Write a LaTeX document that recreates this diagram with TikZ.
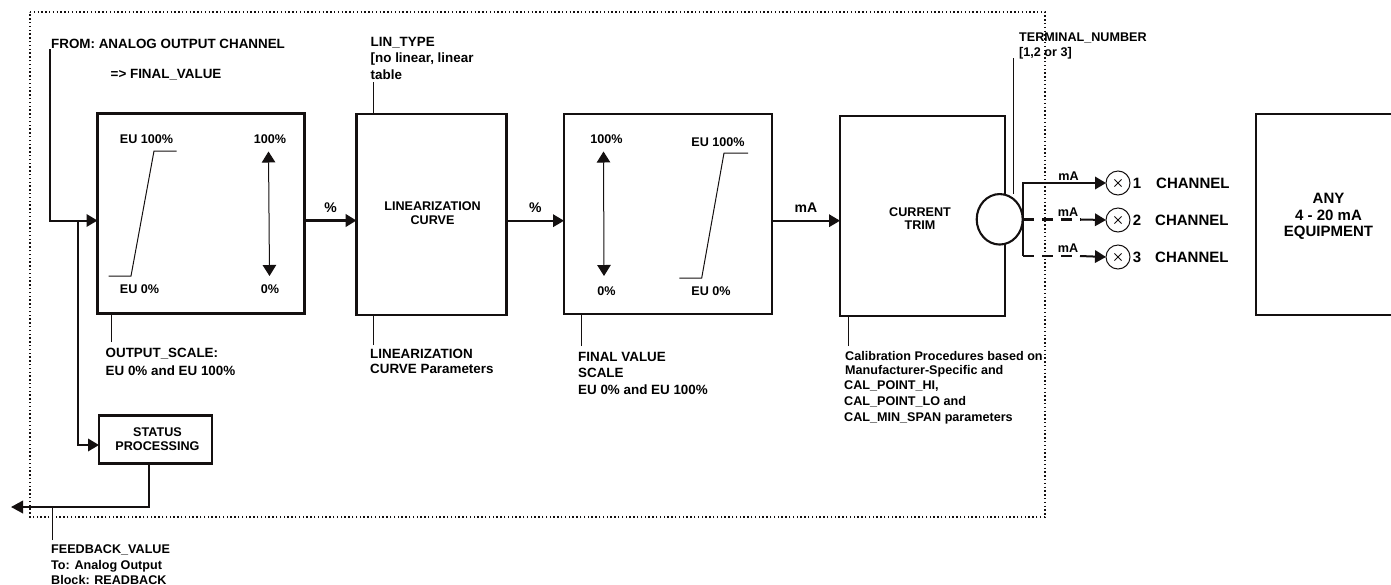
\documentclass[tikz,border=0pt]{standalone}
\usepackage{fontspec}
\setmainfont{Liberation Sans}
\usetikzlibrary{arrows.meta,positioning,calc,shapes.geometric}
\definecolor{ink}{RGB}{20,16,16}
\tikzset{
  x=1pt,y=-1pt,
  every node/.style={font=\fontsize{12.6}{13.8}\selectfont\bfseries,text=black,inner sep=0pt,align=center},
  lbl/.style={anchor=west,align=left,font=\fontsize{13.4}{15}\selectfont\bfseries},
  small/.style={anchor=west,align=left,font=\fontsize{12.6}{14}\selectfont\bfseries},
  big/.style={font=\fontsize{15}{16.7}\selectfont\bfseries},
  mid/.style={font=\fontsize{14}{16}\selectfont\bfseries},
  blockbox/.style={draw=ink,line width=2.1pt,anchor=north west,outer sep=0pt,minimum width=#1,rectangle},
  thin line/.style={draw=ink,line width=1pt},
  flow/.style={draw=ink,line width=2pt,-{Triangle[length=11pt,width=12.5pt]}},
  bigflow/.style={draw=ink,line width=3pt,-{Triangle[length=11pt,width=12.5pt]}},
  dashflow/.style={draw=ink,line width=2.2pt,dash pattern=on 11pt off 8pt},
  dbl/.style={draw=ink,line width=1pt,{Triangle[length=11pt,width=13.5pt]}-{Triangle[length=11pt,width=13.5pt]}},
  outcircle/.style={circle,draw=ink,line width=1pt,outer sep=0pt,minimum size=24pt}
}
\begin{document}
\begin{tikzpicture}
\useasboundingbox (0,0) rectangle (1391,584);
% dotted frame
\draw[ink,line width=1.4pt,dash pattern=on 1.4pt off 2.4pt] (30,12) -- (1045,12) -- (1045,517) -- (30,517) -- cycle;
% blocks
\node[blockbox=207pt,minimum height=200pt] (scale) at (97.5,113.5) {};
\node[blockbox=150pt,minimum height=201pt] (lin) at (356.5,114) {};
\node[blockbox=208pt,minimum height=200pt] (fv) at (564,114) {};
\node[blockbox=165pt,minimum height=200pt] (trim) at (840,115.7) {};
\node[blockbox=160pt,minimum height=201pt] (equip) at (1255.7,114) {};
\node[blockbox=113pt,minimum height=48pt] (status) at (99,415.5) {};
\node[ellipse,draw=ink,line width=2.1pt,fill=white,outer sep=0pt,minimum width=46pt,minimum height=50.5pt] (term) at (999.7,219.3) {};
% box texts
\node (t1) at (146.5,139) {EU 100\%};
\node (t2) at (270,139) {100\%};
\node (t3) at (139.5,289) {EU 0\%};
\node (t4) at (270,289) {0\%};
\node (t5) at (432.5,213) {LINEARIZATION\\CURVE};
\node (t6) at (606.5,139.5) {100\%};
\node (t7) at (718,142) {EU 100\%};
\node (t8) at (606.5,291.5) {0\%};
\node (t9) at (711,291.5) {EU 0\%};
\node (t10) at (920,218.5) {CURRENT\\TRIM};
\node (t11) at (157.5,439) {STATUS\\PROCESSING};
\node[big] (t12) at (1328.5,216.5) {ANY\\4 - 20 mA\\EQUIPMENT};
% curves
\draw[thin line] (108.5,276) -- (131,276) -- (154,151) -- (176.5,151);
\draw[thin line] (679.3,278) -- (701.7,278) -- (724,153) -- (748,153);
\coordinate (a1) at (268.5,151.5); \coordinate (a2) at (269.5,276);
\draw[dbl] (a1) -- (a2);
\coordinate (a3) at (603.5,151.5); \coordinate (a4) at (604,276);
\draw[dbl] (a3) -- (a4);
% labels
\node[lbl] (from) at (51,43.5) {FROM: ANALOG OUTPUT CHANNEL};
\node[lbl] (fin) at (110.5,74.5) {=> FINAL\_VALUE};
\node[lbl] (lt) at (370.5,43) {LIN\_TYPE};
\node[lbl] (lt2) at (370.5,59) {[no linear, linear};
\node[lbl] (lt3) at (370.5,75) {table};
\node[lbl] (os) at (105.5,354) {OUTPUT\_SCALE:};
\node[lbl] (os2) at (105.5,371) {EU 0\% and EU 100\%};
\node[lbl] (lc) at (370,353.5) {LINEARIZATION};
\node[lbl] (lc2) at (370,368.5) {CURVE Parameters};
\node[lbl] (fs) at (578,357) {FINAL VALUE};
\node[lbl] (fs2) at (578,372.5) {SCALE};
\node[lbl] (fs3) at (578,390) {EU 0\% and EU 100\%};
\node[small] (cal) at (845,356) {Calibration Procedures based on};
\node[small] (cal2) at (845,371) {Manufacturer-Specific and};
\node[small] (cal3) at (844,386) {CAL\_POINT\_HI,};
\node[small] (cal4) at (844,402) {CAL\_POINT\_LO and};
\node[small] (cal5) at (844,418) {CAL\_MIN\_SPAN parameters};
\node[small] (tn) at (1019,37.5) {TERMINAL\_NUMBER};
\node[small] (tn2) at (1019,53) {[1,2 or 3]};
\node[small] (fb1) at (51,550) {FEEDBACK\_VALUE};
\node[small] (fb2) at (51,566) {To: Analog Output};
\node[small] (fb3) at (51,579.5) {Block: READBACK};
% leaders
\coordinate (l1) at (373.5,82); \coordinate (l2) at (111.5,342); \coordinate (l3) at (373,345);
\coordinate (l4) at (581.5,346); \coordinate (l5) at (848,346); \coordinate (l6) at (1013,58); \coordinate (l7) at (52,540);
\draw[thin line] (l1) -- (l1 |- lin.north);
\draw[thin line] (l2) -- (l2 |- scale.south);
\draw[thin line] (l3) -- (l3 |- lin.south);
\draw[thin line] (l4) -- (l4 |- fv.south);
\draw[thin line] (l5) -- (l5 |- trim.south);
\draw[thin line] (l6) -- (l6 |- term.north);
\draw[thin line] (l7) -- (52,507);
% main flows
\coordinate (start) at (49.5,49);
\coordinate (inn) at (97,220.5);
\coordinate (st) at (99,445);
\coordinate (tap) at (78,220.5);
\coordinate (midl) at (0,220.7);
\coordinate (back) at (149,507);
\coordinate (out) at (11,507);
\draw[flow] (start) |- (scale.west |- inn);
\draw[flow] (tap) |- (status.west |- st);
\draw[bigflow] (scale.east |- inn) -- (lin.west |- inn) node[midway,yshift=13pt,mid] (pc1) {\%};
\draw[flow] (lin.east |- midl) -- (fv.west |- midl) node[midway,yshift=13pt,mid] (pc2) {\%};
\draw[flow] (fv.east |- midl) -- (trim.west |- midl) node[midway,yshift=13pt,mid] (ma0) {mA};
\draw[draw=ink,line width=2pt,-{Triangle[length=12pt,width=12.5pt]}] (back |- status.south) -- (back) -- (out);
% outputs
\node[outcircle] (c1) at (1118,183) {};
\node[outcircle] (c2) at (1118,220) {};
\node[outcircle] (c3) at (1118,257) {};
\foreach \c in {c1,c2,c3}{
  \draw[thin line] ($(\c)+(-3.6,-3.6)$) -- ($(\c)+(3.6,3.6)$);
  \draw[thin line] ($(\c)+(-3.6,3.6)$) -- ($(\c)+(3.6,-3.6)$);
}
\coordinate (j) at (1023,219.5);
\coordinate (j3) at (1023,256);
\coordinate (d2) at (1081,219.5);
\coordinate (d3) at (1080,256);
\draw[flow] (j) |- (c1.west);
\draw[draw=ink,line width=2pt] (j) -- (j3);
\draw[dashflow] (j) -- (d2);
\draw[dashflow] (j3) -- (d3);
\draw[flow] (d2) -- (c2.west);
\draw[flow] (d3) -- (c3.west);
\node (m1) at (1068.5,176) {mA};
\node (m2) at (1068,212) {mA};
\node (m3) at (1068,248) {mA};
\node[big] (n1) at (1137,183) {1};
\node[big] (n2) at (1137,220) {2};
\node[big] (n3) at (1137,257.5) {3};
\node[lbl,big] (ch1) at (1156,183) {CHANNEL};
\node[lbl,big] (ch2) at (1155,220) {CHANNEL};
\node[lbl,big] (ch3) at (1155,257.5) {CHANNEL};
\end{tikzpicture}
\end{document}
